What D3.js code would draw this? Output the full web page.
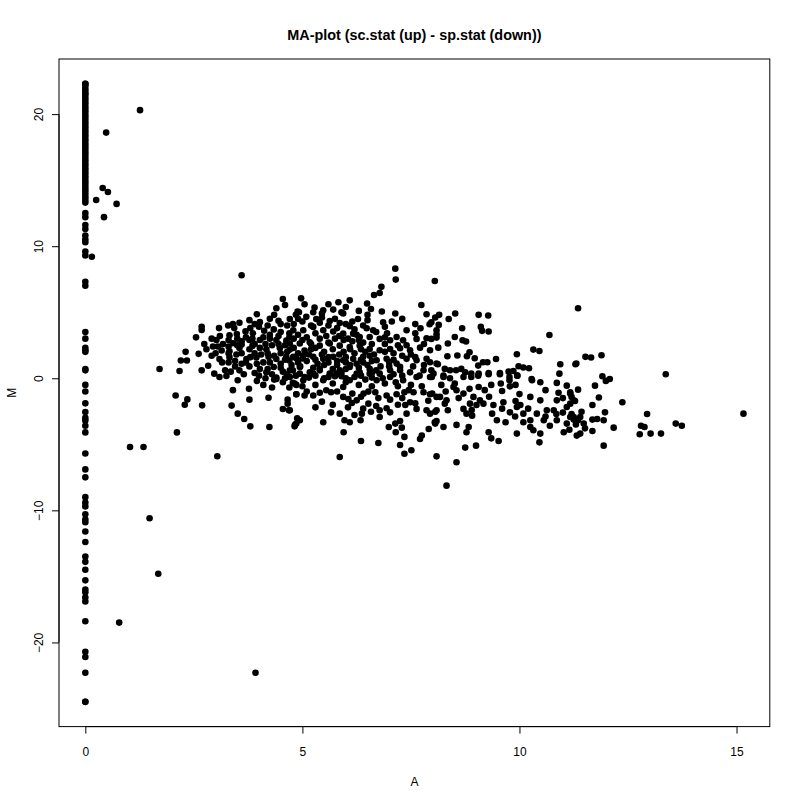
<!DOCTYPE html>
<html>
<head>
<meta charset="utf-8">
<script src="https://cdn.jsdelivr.net/npm/d3@7"></script>
<style>
	body { margin: 0; background: #fff; }
	svg text { font-family: 'Liberation Sans', Arial, Helvetica, sans-serif; fill: #000; }
</style>
</head>
<body>
<svg id="chart" width="800" height="800"></svg>
<script>
var title = 'MA-plot (sc.stat (up) - sp.stat (down))';
var xLabel = 'A';
var yLabel = 'M';
var xTicks = [0, 5, 10, 15];
var yTicks = [-20, -10, 0, 10, 20];

// genes with A = 0 (only expressed on one side), M values
var zeroColumn = [22.3, 22.3, 22.2, 22.0, 21.8, 21.6, 21.5, 21.3, 21.1, 20.9, 20.7, 20.5, 20.3, 20.1, 19.9,
	19.7, 19.5, 19.3, 19.1, 18.9, 18.7, 18.5, 18.3, 18.1, 17.9, 17.7, 17.5, 17.3, 17.1, 16.9, 16.7, 16.5,
	16.3, 16.1, 15.9, 15.7, 15.5, 15.3, 15.1, 14.9, 14.7, 14.5, 14.3, 14.1, 13.9, 13.7, 13.5, 13.3,
	12.5, 12.2, 11.6, 11.3, 10.8, 10.5, 10.3, 9.6, 9.3, 7.3, 7.0, 3.5, 3.0, 2.3, 2.1, 2.0, 0.7, 0.6,
	-0.5, -1.0, -1.9, -2.55, -3.0, -3.2, -3.6, -4.1, -5.7, -6.9, -7.5, -9.0, -9.4, -9.7, -10.3, -10.7,
	-10.9, -11.6, -12.4, -13.5, -13.9, -14.5, -15.3, -16.0, -16.2, -16.6, -16.9, -18.4, -20.7, -21.1,
	-22.3, -24.5, -24.5];

// isolated points, [A, M]
var outliers = [[1.26, 20.3], [0.48, 18.6], [0.40, 14.4], [0.52, 14.1], [0.25, 13.5], [0.72, 13.2],
	[0.43, 12.2], [0.15, 9.2], [1.03, -5.2], [1.34, -5.2], [1.48, -10.6], [1.68, -14.8], [0.78, -18.5],
	[3.92, -22.3], [3.04, -5.9], [2.11, -4.1], [2.08, -1.3], [2.35, -1.6], [2.29, -2.0], [2.69, -2.05],
	[8.32, -8.13], [8.55, -6.36], [15.16, -2.68], [13.37, 0.3]];

// cluster, low A side
var clusterWest = [[3.6, 7.8], [4.55, 6.0], [4.6, 5.55], [3.95, 4.85], [4.35, 4.8], [4.89, 5.05], [3.78, 4.4],
	[3.55, 4.2], [4.02, 4.25], [4.45, 4.35], [4.65, 4.0], [2.68, 3.9], [2.68, 3.65], [3.08, 3.8], [3.29, 4.0],
	[3.43, 3.8], [2.55, 3.1], [2.91, 3.0], [3.02, 2.9], [3.32, 3.25], [3.49, 3.35], [3.69, 3.55], [3.86, 3.4],
	[4.12, 3.6], [4.34, 3.7], [4.5, 3.5], [4.7, 3.4], [2.74, 2.6], [2.94, 2.4], [3.17, 2.6], [3.4, 2.65],
	[3.6, 2.8], [3.78, 2.9], [4.02, 2.9], [4.25, 3.0], [4.4, 2.9], [4.63, 2.85], [2.31, 2.0], [2.61, 1.85],
	[2.79, 2.2], [3.14, 2.1], [3.32, 2.05], [3.55, 2.3], [3.78, 2.2], [4.02, 2.3], [4.17, 2.2], [4.48, 2.3],
	[4.71, 2.17], [2.2, 1.35], [2.34, 1.35], [2.91, 1.7], [3.09, 1.45], [3.32, 1.6], [3.48, 1.8], [3.71, 1.46],
	[3.94, 1.57], [4.22, 1.62], [4.4, 1.46], [4.63, 1.62], [4.86, 1.52], [1.71, 0.7], [2.17, 0.55], [2.68, 0.6],
	[2.83, 0.95], [2.97, 0.35], [3.22, 0.6], [3.45, 0.9], [3.55, 0.6], [3.78, 0.9], [4.02, 0.7], [4.17, 0.45],
	[4.34, 0.85], [4.55, 0.5], [4.78, 0.6], [3.09, 0.1], [3.25, 0.17], [4.4, 0.06], [4.71, 0.1],
	[3.51, -0.15], [4.15, 0.0], [4.35, -0.1], [4.4, -0.05], [4.55, -0.3], [4.78, -0.35], [4.86, -0.5],
	[3.4, -0.9], [3.77, -0.8], [3.78, -1.62], [4.22, -1.47], [4.66, -1.62], [4.66, -1.92], [4.86, -1.21],
	[3.37, -2.07], [3.51, -2.68], [3.66, -3.08], [3.8, -3.64], [4.24, -3.69], [4.55, -2.33], [4.69, -2.43],
	[4.88, -3.03], [4.83, -3.53],
	[3.1, 3.2], [3.3, 2.9], [3.5, 3.0], [3.85, 3.0], [4.25, 3.3], [4.45, 3.2], [3.05, 2.4], [3.3, 2.4],
	[3.6, 2.55], [3.85, 2.45], [4.15, 2.6], [4.45, 2.6], [3.0, 1.9], [3.3, 1.9], [3.6, 1.9], [3.8, 1.6],
	[4.05, 1.8], [4.35, 1.7], [4.6, 1.4], [3.15, 1.2], [3.45, 1.3], [3.7, 1.2], [3.95, 1.1], [4.25, 1.2],
	[4.5, 0.8], [3.35, 0.5], [3.65, 0.3], [4.0, 0.2], [4.2, 0.7], [4.6, 0.0], [3.8, 3.8], [4.2, 4.0],
	[4.5, 4.1], [3.4, 4.1], [3.95, -0.2], [4.1, -0.5], [4.3, -0.7]];

// cluster, dense middle
var clusterMid = [[7.14, 8.3], [7.15, 7.47], [8.05, 7.37], [4.97, 6.05], [5.28, 5.35], [5.6, 5.6], [5.83, 5.76],
	[6.09, 5.9], [6.82, 6.92], [6.78, 6.46], [6.65, 6.31], [6.49, 5.66], [6.58, 5.25], [6.83, 5.05], [7.14, 4.9],
	[6.86, 4.24], [7.06, 4.3], [7.74, 5.55], [7.86, 4.85], [8.06, 4.6], [4.92, 5.0], [5.48, 5.15], [5.71, 5.2],
	[5.94, 4.9], [6.28, 4.49], [4.71, 4.49], [5.09, 4.65], [5.32, 4.49], [5.63, 4.34], [5.86, 4.19], [6.09, 3.94],
	[6.48, 3.79], [6.63, 3.64], [7.4, 3.64], [7.72, 3.79], [7.93, 4.09], [8.09, 3.64],
	[4.79, 3.64], [5.02, 3.64], [5.25, 3.89], [5.48, 3.64], [5.71, 3.54], [5.94, 3.38], [6.17, 3.38], [6.32, 3.13],
	[6.55, 3.13], [6.78, 2.98], [7.02, 2.88], [7.17, 3.13], [7.32, 2.88], [7.63, 2.98], [7.86, 3.03], [8.09, 3.08],
	[4.71, 2.63], [4.94, 2.63], [5.17, 2.73], [5.4, 2.47], [5.63, 2.63], [5.86, 2.47], [6.09, 2.37], [6.32, 2.47],
	[6.55, 2.22], [6.78, 2.12], [7.02, 2.22], [7.25, 2.27], [7.48, 2.12], [7.71, 2.32], [7.94, 2.12], [8.13, 2.32],
	[4.79, 1.62], [5.02, 1.72], [5.25, 1.62], [5.48, 1.47], [5.71, 1.62], [5.94, 1.36], [6.17, 1.47], [6.4, 1.62],
	[6.71, 1.36], [6.94, 1.47], [7.17, 1.11], [7.4, 1.47], [7.63, 1.36], [7.86, 1.47], [8.09, 1.11],
	[4.71, 0.61], [4.94, 0.86], [5.17, 0.45], [5.4, 0.71], [5.63, 0.35], [5.86, 0.61], [6.09, 0.86], [6.32, 0.45],
	[6.55, 0.71], [6.78, 0.35], [7.02, 0.61], [7.25, 0.86], [7.48, 0.45], [7.79, 0.61], [8.02, 0.35],
	[4.94, 0.35], [5.25, 0.35], [5.78, 0.35], [6.25, 0.35], [6.55, 0.35], [7.02, 0.1], [7.32, -0.15], [7.63, 0.1],
	[7.94, 0.1], [5.48, -0.15], [6.09, -0.15], [6.71, -0.15],
	[4.82, -0.4], [5.02, -0.15], [4.86, -1.21], [5.05, -1.31], [5.25, -1.31], [5.45, -1.77], [5.55, -0.91],
	[5.66, -1.06], [5.94, -0.66], [5.94, -1.41], [6.06, -1.57], [6.15, -1.16], [6.14, -1.87], [6.25, -1.67],
	[6.41, -1.16], [6.52, -1.01], [6.68, -1.06], [6.52, -1.92], [6.58, -2.53], [6.78, -2.42], [6.94, -1.31],
	[7.02, -1.62], [7.17, -1.21], [7.35, -1.06], [7.56, -1.06], [7.79, -1.06], [7.94, -1.21], [8.09, -1.41],
	[6.94, -2.27], [7.02, -2.58], [7.37, -2.02], [7.48, -1.82], [7.4, -2.68], [7.63, -2.32], [7.86, -2.42],
	[8.06, -2.53], [4.71, -2.42], [4.94, -3.18], [4.86, -3.43], [4.82, -3.64], [5.48, -3.33], [5.66, -2.58],
	[5.86, -2.68], [5.97, -3.18], [6.09, -3.33], [6.2, -2.78], [6.34, -3.18], [6.37, -2.68], [6.78, -2.93],
	[6.99, -3.69], [7.14, -3.43], [7.25, -3.23], [7.29, -3.74], [7.15, -4.09], [5.95, -4.09], [6.35, -4.75],
	[6.75, -4.9], [7.35, -4.44], [7.25, -5.05], [7.75, -4.34], [7.71, -4.6], [7.91, -3.84], [8.06, -3.43],
	[8.09, -3.23], [7.35, -5.71], [7.51, -5.45], [5.86, -5.96], [8.09, -5.91]];

// where the dots overlap into a solid mass
var clusterCore = [[4.8, 4.1], [5.0, 4.3], [5.2, 4.0], [5.4, 4.2], [5.6, 4.0], [5.8, 3.8], [6.0, 4.1], [6.2, 3.7],
	[6.4, 4.0], [4.9, 3.3], [5.1, 3.1], [5.3, 3.4], [5.55, 3.2], [5.75, 3.0], [5.95, 2.9], [6.15, 2.8],
	[6.4, 2.7], [6.6, 2.6], [4.8, 2.3], [5.05, 2.1], [5.3, 2.3], [5.5, 2.0], [5.7, 2.2], [5.95, 2.0], [6.2, 1.9],
	[6.45, 2.0], [6.65, 1.8], [4.9, 1.2], [5.1, 1.3], [5.35, 1.1], [5.6, 1.2], [5.8, 1.0], [6.0, 1.2], [6.25, 1.1],
	[6.5, 1.0], [6.8, 0.9], [4.85, 0.2], [5.05, 0.1], [5.3, 0.2], [5.5, 0.0], [5.75, 0.15], [6.0, 0.0], [6.2, 0.1],
	[6.45, -0.1], [6.85, 0.0], [4.1, 3.1], [4.3, 2.5], [3.9, 2.6], [4.2, 1.9], [4.5, 1.9], [3.9, 1.9], [3.6, 1.1],
	[4.1, 1.2], [4.5, 1.1], [3.9, 0.4], [4.3, 0.3], [4.6, 2.5], [3.5, 2.5], [3.3, 1.2], [3.7, 3.1], [4.0, 3.9],
	[4.8, 3.0], [5.2, 2.6], [5.6, 2.7], [5.15, 1.8], [5.6, 1.6], [6.0, 1.6], [6.35, 1.4], [5.4, 0.6], [5.9, 0.4],
	[6.6, 0.4], [4.75, 1.0], [5.25, 5.0], [6.3, 5.1], [6.0, 5.4], [5.05, 5.6], [4.4, 5.3], [7.3, 4.5], [7.6, 4.1],
	[6.95, 3.4], [7.6, 3.4], [7.2, 2.5], [7.5, 1.8], [7.3, 0.2], [7.8, 1.0],
	[4.9, 4.5], [5.45, 4.6], [5.75, 4.5], [6.15, 4.3], [6.5, 4.4], [4.7, 3.1], [5.0, 2.9], [5.4, 3.0],
	[5.85, 3.2], [6.05, 3.0], [6.3, 2.9], [6.9, 3.1], [4.65, 2.0], [4.9, 1.9], [5.2, 2.2], [5.45, 1.8],
	[5.85, 1.8], [6.1, 2.2], [6.35, 2.2], [6.55, 1.7], [6.9, 2.0], [7.3, 1.7], [4.7, 1.35], [5.0, 1.5],
	[5.3, 1.4], [5.8, 1.3], [6.1, 1.0], [6.4, 1.2], [6.6, 1.3], [7.1, 1.4], [4.95, 0.9], [5.25, 0.8],
	[5.5, 1.0], [5.7, 0.7], [6.0, 0.7], [6.3, 0.8], [6.7, 0.6], [7.0, 0.9], [4.65, 0.3], [5.15, 0.05],
	[5.6, 0.1], [5.9, 0.15], [6.35, 0.2], [6.6, 0.05], [7.1, 0.3], [4.7, -0.7], [5.0, -0.6], [5.3, -0.5],
	[5.7, -0.4], [6.0, -0.3], [6.3, -0.5], [6.6, -0.6], [6.9, -0.4], [7.2, -0.6], [7.5, -0.5], [5.1, -1.0],
	[5.4, -1.1], [5.8, -1.0], [6.35, -1.4], [6.75, -1.5], [7.3, -1.5],
	[6.9, 2.6], [7.1, 1.9], [7.4, 2.5], [7.6, 1.6], [7.8, 2.6], [7.0, 1.2], [7.25, 0.6], [7.55, 0.9],
	[7.7, 0.2], [7.15, -0.3], [7.45, -0.9], [7.75, -0.6], [7.9, -1.7], [7.6, -1.9], [7.2, -2.0], [6.7, -2.1],
	[6.4, -2.3], [6.05, -2.2], [5.7, -2.0], [5.3, -2.2], [6.25, 3.3], [6.7, 3.5], [6.9, 3.9], [6.5, 4.8],
	[5.9, 5.0], [5.45, 4.9], [4.85, 4.8], [4.25, 4.5], [3.9, 4.1]];

// cluster, high A side
var clusterEast = [[11.35, 5.3], [8.15, 4.8], [8.52, 4.9], [9.06, 4.8], [9.28, 4.75], [8.37, 4.49], [7.97, 4.24],
	[8.14, 4.04], [8.68, 3.79], [9.11, 3.89], [9.14, 3.59], [9.29, 3.54], [8.09, 3.33], [7.97, 2.98], [8.51, 3.13],
	[8.69, 2.88], [8.77, 2.78], [8.35, 2.63], [10.69, 3.28], [10.32, 2.17], [10.46, 2.07], [9.94, 1.82],
	[8.85, 1.97], [8.79, 1.67], [8.57, 1.72], [8.34, 1.67], [8.97, 1.52], [9.46, 1.46], [9.16, 1.21], [9.26, 1.21],
	[9.05, 0.96], [7.94, 1.21], [8.12, 1.06], [7.97, 0.61], [8.28, 0.71], [8.4, 0.61], [8.54, 0.61], [8.66, 0.71],
	[8.75, 0.45], [9.55, 0.4], [9.75, 0.5], [9.86, 0.55], [9.98, 0.91], [10.09, 0.81], [10.22, 0.76], [9.95, 0.2],
	[8.89, 0.35], [9.06, 0.35], [9.29, 0.4], [10.94, 1.06], [10.92, 0.35], [11.29, 1.06], [8.25, 0.1], [8.4, 0.0],
	[10.28, -0.05], [7.98, 0.1], [8.25, 0.2], [8.51, -0.4], [8.71, 0.1], [8.89, 0.1], [9.05, 0.2], [9.29, 0.3],
	[9.55, 0.3], [9.77, 0.1], [9.95, 0.2], [7.99, -1.16], [8.17, -1.41], [8.32, -1.67], [8.28, -1.92],
	[8.09, -2.42], [7.94, -2.68], [8.35, -2.42], [8.55, -0.91], [8.48, -0.66], [8.71, -1.16], [8.94, -1.41],
	[9.06, -0.66], [8.86, -1.92], [9.01, -2.02], [8.71, -2.32], [8.78, -2.68], [8.91, -2.83], [9.09, -1.67],
	[9.35, -0.5], [9.57, -0.4], [9.77, -0.15], [9.78, -0.61], [9.91, -0.5], [9.6, -0.96], [9.17, -1.92],
	[9.4, -2.02], [9.63, -1.82], [9.91, -1.72], [10.02, -2.02], [10.25, -1.41], [10.48, -1.67], [10.48, -0.3],
	[10.29, -0.15], [10.86, -0.35], [11.09, -0.56], [11.17, -1.06], [11.35, -0.86], [11.25, -1.67],
	[10.86, -1.67], [10.63, -2.42], [10.79, -2.42], [11.09, -2.17], [11.25, -2.93], [11.4, -2.93],
	[9.37, -2.68], [9.48, -3.18], [9.68, -3.33], [9.78, -2.58], [9.94, -2.17], [10.09, -2.68], [10.25, -3.18],
	[10.4, -2.68], [10.56, -3.18], [10.09, -3.33], [10.32, -3.94], [10.48, -4.19], [10.25, -3.69],
	[10.86, -3.18], [11.09, -3.43], [11.32, -4.34], [11.02, -4.09], [8.05, -3.33], [8.25, -3.69], [8.55, -3.53],
	[8.78, -4.09], [8.83, -3.69], [9.29, -4.09], [9.35, -4.55], [9.52, -4.75], [9.94, -4.19], [10.46, -4.85],
	[9.0, -5.1], [8.75, -5.25], [11.31, 1.11], [11.52, 1.62], [11.65, 1.57], [11.89, 1.74], [11.91, 0.15],
	[12.08, -0.05], [11.99, -0.2], [11.74, -0.56], [11.17, -1.16], [11.2, -1.41], [11.28, -1.72], [11.17, -1.92],
	[11.83, -1.46], [12.37, -1.82], [11.68, -2.02], [11.43, -2.53], [11.97, -2.58], [11.17, -2.93], [11.25, -3.13],
	[11.35, -3.18], [11.48, -3.43], [11.51, -3.79], [11.4, -4.19], [11.68, -3.13], [11.79, -3.08], [11.94, -3.18],
	[11.68, -3.99], [12.17, -3.74], [11.94, -5.1], [12.94, -2.7], [12.8, -3.59], [12.88, -3.69], [12.77, -4.24],
	[13.02, -4.19], [13.26, -4.19], [13.6, -3.43], [13.74, -3.59], [11.2, -2.7], [11.3, -3.5], [11.15, -3.9],
	[8.3, -1.0], [8.6, -1.5], [8.9, -2.4], [9.3, -1.4], [9.6, -2.3], [9.9, -2.9], [10.2, -2.3], [10.6, -2.9],
	[10.85, -2.7], [10.7, -3.6], [10.9, -1.1], [8.2, -0.5], [8.85, -0.8], [9.2, -0.9], [10.0, -1.2],
	[10.6, -0.9], [11.0, -1.5], [11.0, -2.6]];

var points = zeroColumn.map(function(m){ return [0, m]; })
	.concat(outliers, clusterWest, clusterMid, clusterCore, clusterEast);

var svg = d3.select('#chart');
var plot = {left: 59, right: 769.8, top: 59, bottom: 726.6};

// R style range: data extent plus 4% each side
function padded(ext) {
	var d = (ext[1] - ext[0]) * 0.04;
	return [ext[0] - d, ext[1] + d];
}

var x = d3.scaleLinear()
	.domain(padded(d3.extent(points, function(d){ return d[0]; })))
	.range([plot.left, plot.right]);
var y = d3.scaleLinear()
	.domain(padded(d3.extent(points, function(d){ return d[1]; })))
	.range([plot.bottom, plot.top]);

//points
svg.append('g')
	.selectAll('circle')
	.data(points)
	.enter()
	.append('circle')
	.attr('cx', function(d){ return x(d[0]); })
	.attr('cy', function(d){ return y(d[1]); })
	.attr('r', 3.3)
	.attr('fill', '#000');

//box
svg.append('rect')
	.attr('x', plot.left)
	.attr('y', plot.top)
	.attr('width', plot.right - plot.left)
	.attr('height', plot.bottom - plot.top)
	.attr('fill', 'none')
	.attr('stroke', '#000')
	.attr('stroke-width', 1);

//x axis
var xAxis = svg.append('g')
	.attr('transform', 'translate(0,' + plot.bottom + ')')
	.call(d3.axisBottom(x).tickValues(xTicks).tickSize(7).tickPadding(14).tickFormat(d3.format('d')));
xAxis.select('.domain')
	.attr('d', 'M' + x(xTicks[0]) + ',0H' + x(xTicks[xTicks.length - 1]));
xAxis.selectAll('text')
	.attr('font-size', 12)
	.attr('font-family', null);

//y axis, labels rotated like R's las = 0
var yAxis = svg.append('g')
	.attr('transform', 'translate(' + plot.left + ',0)')
	.call(d3.axisLeft(y).tickValues(yTicks).tickSize(7).tickFormat(d3.format('d')));
yAxis.select('.domain')
	.attr('d', 'M0,' + y(yTicks[0]) + 'V' + y(yTicks[yTicks.length - 1]));
yAxis.selectAll('.tick text')
	.attr('x', null)
	.attr('dy', null)
	.attr('font-size', 12)
	.attr('font-family', null)
	.attr('text-anchor', 'middle')
	.attr('transform', 'translate(-16,0) rotate(-90)');

svg.append('text')
	.attr('x', (plot.left + plot.right) / 2)
	.attr('y', 40)
	.attr('text-anchor', 'middle')
	.attr('font-size', 14.4)
	.attr('font-weight', 'bold')
	.text(title);

svg.append('text')
	.attr('x', (plot.left + plot.right) / 2)
	.attr('y', 786)
	.attr('text-anchor', 'middle')
	.attr('font-size', 12)
	.text(xLabel);

svg.append('text')
	.attr('transform', 'translate(16,' + (plot.top + plot.bottom) / 2 + ') rotate(-90)')
	.attr('text-anchor', 'middle')
	.attr('font-size', 12)
	.text(yLabel);
</script>
</body>
</html>
